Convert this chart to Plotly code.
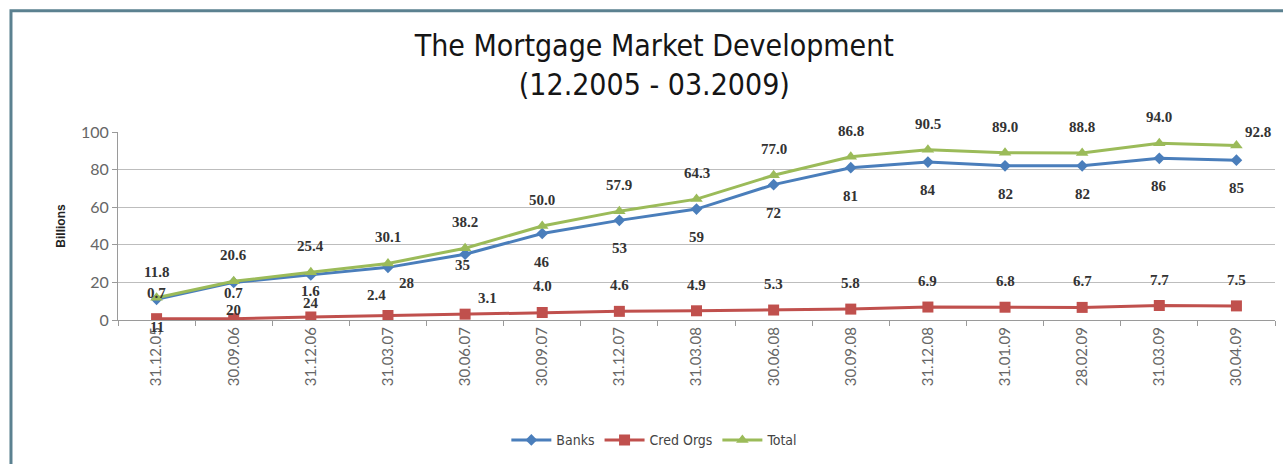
import plotly.graph_objects as go

# Reporting dates (x categories)
dates = ["31.12.05", "30.09.06", "31.12.06", "31.03.07", "30.06.07", "30.09.07",
         "31.12.07", "31.03.08", "30.06.08", "30.09.08", "31.12.08", "31.01.09",
         "28.02.09", "31.03.09", "30.04.09"]

# Mortgage portfolio, billions
banks = [11, 20, 24, 28, 35, 46, 53, 59, 72, 81, 84, 82, 82, 86, 85]
cred_orgs = [0.7, 0.7, 1.6, 2.4, 3.1, 4.0, 4.6, 4.9, 5.3, 5.8, 6.9, 6.8, 6.7, 7.7, 7.5]
total = [11.8, 20.6, 25.4, 30.1, 38.2, 50.0, 57.9, 64.3, 77.0, 86.8, 90.5, 89.0, 88.8, 94.0, 92.8]

BLUE = "#4A7EBB"
RED = "#C0504D"
GREEN = "#9BBB59"

COND = "DejaVu Sans Condensed, DejaVu Sans"

fig = go.Figure()
fig.add_trace(go.Scatter(x=dates, y=banks, name="Banks", mode="lines+markers",
                         line=dict(color=BLUE, width=3),
                         marker=dict(symbol="diamond", size=9, color=BLUE)))
fig.add_trace(go.Scatter(x=dates, y=cred_orgs, name="Cred Orgs", mode="lines+markers",
                         line=dict(color=RED, width=3),
                         marker=dict(symbol="square", size=11, color=RED)))
fig.add_trace(go.Scatter(x=dates, y=total, name="Total", mode="lines+markers",
                         line=dict(color=GREEN, width=3),
                         marker=dict(symbol="triangle-up", size=11, color=GREEN)))

label_font = dict(family="Liberation Serif", size=15, color="#333333")

# Per-label nudges (pixels) for crowded labels: index -> (xshift, yshift)
banks_nudge = {3: (19, -16), 4: (-3, -11)}
cred_nudge = {3: (-11, 20), 4: (22, 16)}
total_nudge = {14: (22, 14)}


def add_labels(values, fmt, shift, nudge):
    for i, (d, v) in enumerate(zip(dates, values)):
        xs, ys = nudge.get(i, (0, shift))
        fig.add_annotation(x=d, y=v, text="<b>" + fmt.format(v) + "</b>",
                           showarrow=False, xshift=xs, yshift=ys, font=label_font)


add_labels(banks, "{:.0f}", -28, banks_nudge)
add_labels(cred_orgs, "{:.1f}", 26, cred_nudge)
add_labels(total, "{:.1f}", 26, total_nudge)

# Outer chart frame
fig.add_shape(type="rect", xref="paper", yref="paper",
              x0=-0.0925, x1=1.03, y0=-0.95, y1=1.645,
              line=dict(color="#5B8190", width=3), fillcolor="rgba(0,0,0,0)",
              layer="below")

fig.update_layout(
    width=1283, height=464,
    margin=dict(l=118, r=8, t=132, b=144),
    paper_bgcolor="white", plot_bgcolor="white",
    title=dict(text="The Mortgage Market Development<br>(12.2005 - 03.2009)",
               x=0.51, xanchor="center", y=0.88, yanchor="middle",
               font=dict(family=COND, size=30, color="#151515")),
    showlegend=True,
    legend=dict(orientation="h", x=0.464, xanchor="center", y=-0.64, yanchor="middle",
                font=dict(family=COND, size=14, color="#444444"),
                itemwidth=40, tracegroupgap=0),
    xaxis=dict(type="category", showgrid=False, showline=True, linecolor="#9a9a9a",
               ticks="outside", ticklen=5, tickcolor="#9a9a9a", tickson="boundaries",
               tickangle=-90, tickfont=dict(family="Lato", size=15, color="#666666"),
               range=[-0.5, len(dates) - 0.5]),
    yaxis=dict(range=[0, 100], tickvals=[0, 20, 40, 60, 80, 100],
               showgrid=True, gridcolor="#bdbdbd", gridwidth=1,
               showline=True, linecolor="#9a9a9a", ticks="outside", ticklen=5,
               tickcolor="#9a9a9a", zeroline=False,
               tickfont=dict(family="Lato", size=16, color="#666666"),
               title=dict(text="<b>Billions</b>", standoff=12,
                          font=dict(family="Liberation Sans", size=12, color="#222222"))),
)

fig.write_html("out.html")
